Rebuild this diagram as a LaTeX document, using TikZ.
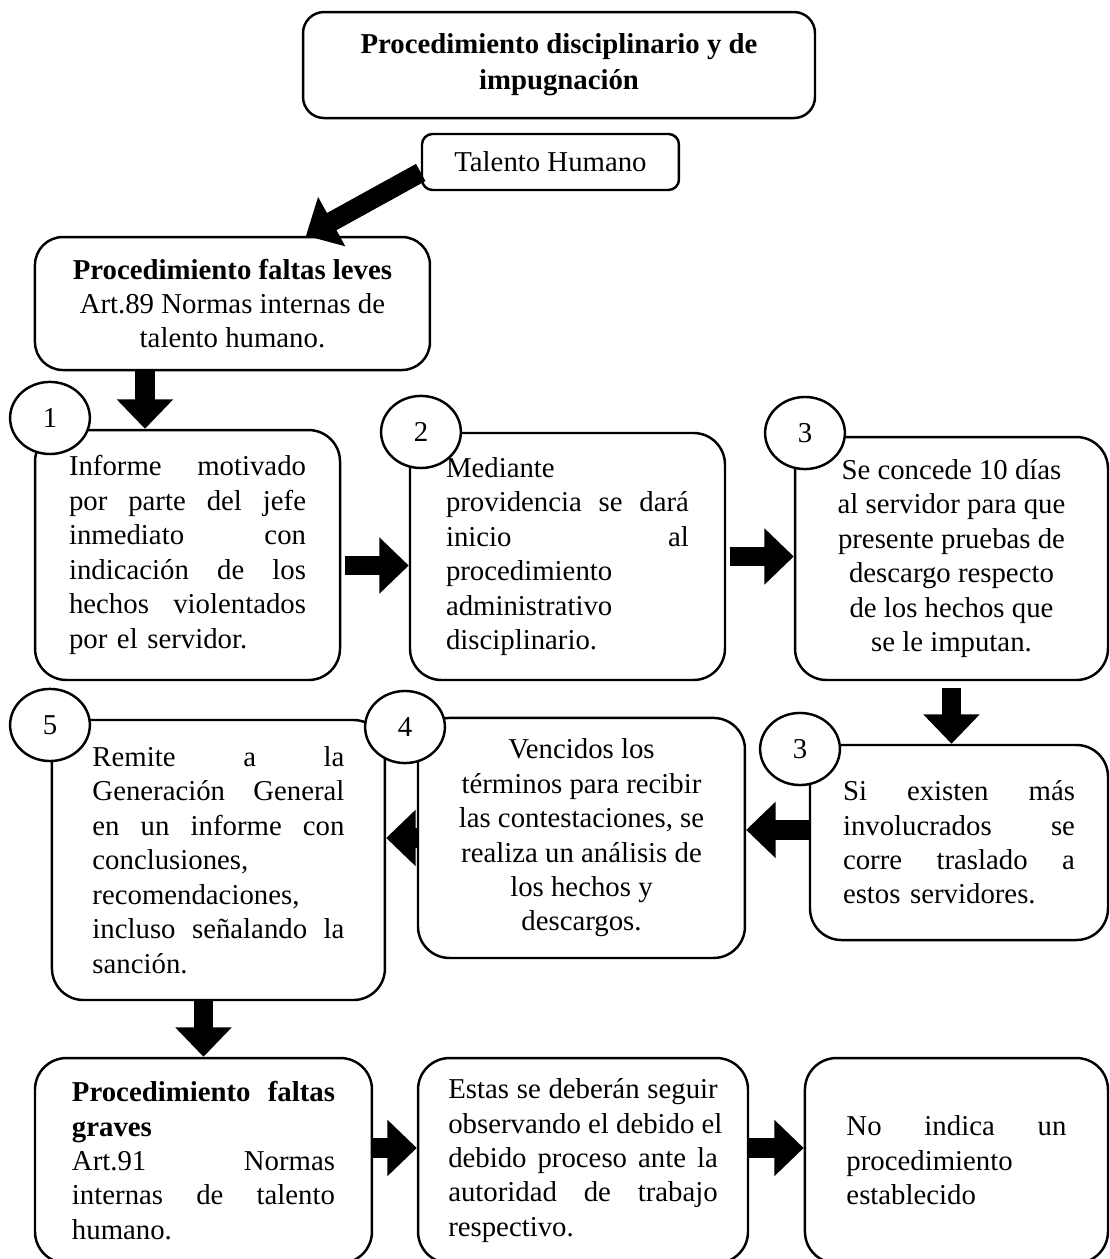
\documentclass[tikz,border=0pt]{standalone}
\usepackage{fontspec}
\setmainfont{Liberation Serif}
\usetikzlibrary{arrows.meta,shapes.geometric}
\newcommand{\jl}[1]{\leavevmode\hbox to \tw{\spaceskip=0.25em plus 1fil\relax#1}}
\begin{document}
\begin{tikzpicture}[line cap=butt,line join=miter,>={Triangle[width=0.78cm,length=0.42cm]},font=\fontsize{11.7}{14}\selectfont]
\tikzset{box/.style={draw,line width=1pt,rounded corners=0.45cm,inner sep=0pt},
tw/.style={text width=#1,align=left,execute at begin node={\def\tw{#1}}},
num/.style={draw,ellipse,line width=1pt,fill=white,minimum width=1.14cm,minimum height=1.03cm,inner sep=0pt},
arr/.style={->,line width=0.28cm}
}
\useasboundingbox (0,0) rectangle (15.857,-17.986);
\clip (0,0) rectangle (15.857,-17.986);
\node[box,rounded corners=0.3cm,minimum width=7.314cm,minimum height=1.514cm,align=center,font=\fontsize{11.7}{14.6}\selectfont\bfseries] (tit) at (7.986,-0.929) {Procedimiento disciplinario y de\\impugnación};
\node[box,rounded corners=0.15cm,minimum width=3.671cm,minimum height=0.8cm] (tal) at (7.864,-2.314) {Talento Humano};
\node[box,rounded corners=0.4cm,minimum width=5.643cm,minimum height=1.9cm,align=center] (lev) at (3.321,-4.336) {\textbf{Procedimiento faltas leves}\\Art.89 Normas internas de\\talento humano.};
\node[box,minimum width=4.357cm,minimum height=3.571cm,tw=3.386cm] (b1) at (2.679,-7.929) {\jl{Informe motivado}\\\jl{por parte del jefe}\\\jl{inmediato con}\\\jl{indicación de los}\\\jl{hechos violentados}\\por el servidor.};
\node[box,minimum width=4.5cm,minimum height=3.529cm,tw=3.471cm] (b2) at (8.107,-7.95) {Mediante\\\jl{providencia se dará}\\\jl{inicio al}\\procedimiento\\administrativo\\disciplinario.};
\node[box,minimum width=4.471cm,minimum height=3.471cm,align=center] (b3) at (13.593,-7.979) {Se concede 10 días\\al servidor para que\\presente pruebas de\\descargo respecto\\de los hechos que\\se le imputan.};
\node[box,minimum width=4.257cm,minimum height=2.786cm,tw=3.314cm] (b3b) at (13.7,-12.036) {\jl{Si existen más}\\\jl{involucrados se}\\\jl{corre traslado a}\\estos servidores.};
\node[box,minimum width=4.671cm,minimum height=3.429cm,align=center] (b4) at (8.307,-11.971) {Vencidos los\\términos para recibir\\las contestaciones, se\\realiza un análisis de\\los hechos y\\descargos.};
\node[box,minimum width=4.757cm,minimum height=4cm,tw=3.6cm] (b5) at (3.121,-12.286) {\jl{Remite a la}\\\jl{Generación General}\\\jl{en un informe con}\\conclusiones,\\recomendaciones,\\\jl{incluso señalando la}\\sanción.};
\node[box,minimum width=4.814cm,minimum height=2.93cm,tw=3.757cm] (gr) at (2.907,-16.58) {\jl{\textbf{Procedimiento faltas}}\\\textbf{graves}\\\jl{Art.91 Normas}\\\jl{internas de talento}\\humano.};
\node[box,minimum width=4.714cm,minimum height=2.93cm,tw=3.85cm] (b6) at (8.329,-16.58) {\jl{Estas se deberán seguir}\\\jl{observando el debido el}\\\jl{debido proceso ante la}\\\jl{autoridad de trabajo}\\respectivo.};
\node[box,minimum width=4.329cm,minimum height=2.93cm,tw=3.143cm] (b7) at (13.664,-16.58) {\jl{No indica un}\\procedimiento\\establecido};
\node[num] (n1) at (0.714,-5.971) {1};
\node[num] (n2) at (6.014,-6.171) {2};
\node[num] (n3) at (11.5,-6.186) {3};
\node[num] (n3b) at (11.429,-10.7) {3};
\node[num] (n4) at (5.786,-10.386) {4};
\node[num] (n5) at (0.714,-10.357) {5};
\coordinate (p) at ([xshift=-1.25cm]lev.south);
\coordinate (q1) at ([xshift=0.05cm,yshift=-0.15cm]b1.east);
\coordinate (q3) at ([yshift=0.18cm]b3b.west);
\coordinate (q6) at ([yshift=0.18cm]gr.east);
\draw[arr] ([yshift=-0.15cm]tal.west) -- ([xshift=1.05cm]lev.north);
\draw[arr] (p) -- (p |- b1.north);
\draw[arr] (q1) -- (q1 -| b2.west);
\draw[arr] ([xshift=0.05cm]b2.east) -- (b2.east -| b3.west);
\draw[arr] ([yshift=-0.1cm]b3.south) -- (b3.south |- b3b.north);
\draw[arr] (q3) -- (q3 -| b4.east);
\draw[arr] (b4.west) -- (b4.west -| b5.east);
\draw[arr] (gr.north |- b5.south) -- (gr.north);
\draw[arr] (q6) -- (q6 -| b6.west);
\draw[arr] (q6 -| b6.east) -- (q6 -| b7.west);
\end{tikzpicture}
\end{document}
